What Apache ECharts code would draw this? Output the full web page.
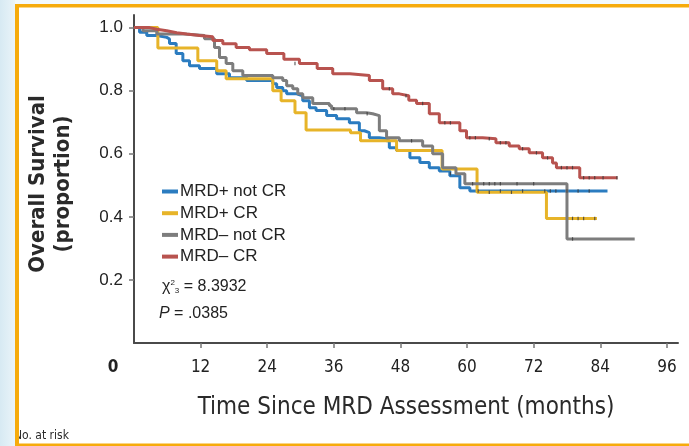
<!DOCTYPE html>
<html>
<head>
<meta charset="utf-8">
<script src="https://cdn.jsdelivr.net/npm/echarts@6/dist/echarts.min.js"></script>
<style>
html, body { margin: 0; padding: 0; background: #fff; }
#chart { width: 689px; height: 446px; }
</style>
</head>
<body>
<div id="chart"></div>
<script>
const chartDom = document.getElementById('chart');
const myChart = echarts.init(chartDom);

const seriesNames = ['MRD+ not CR', 'MRD+ CR', 'MRD\u2013 not CR', 'MRD\u2013 CR'];

// survival curves, [month, proportion] at each drop
const mrdPosNotCR = [
    [0, 1], [1, 0.985], [2.3, 0.975], [4.1, 0.969], [5.9, 0.964], [6.4, 0.95], [7.6, 0.918],
    [8.8, 0.895], [10, 0.879], [11.8, 0.87], [14.9, 0.854], [17.2, 0.841], [20.3, 0.832],
    [25, 0.822], [25.7, 0.81], [26.8, 0.8], [27.5, 0.79], [29.3, 0.784], [30.4, 0.768],
    [31.6, 0.746], [32.8, 0.737], [34.7, 0.721], [36.5, 0.711], [38.8, 0.698], [40.6, 0.673],
    [41.5, 0.667], [42.4, 0.651], [44.2, 0.648], [45.5, 0.641], [46, 0.619], [47.3, 0.61],
    [49.7, 0.587], [51.5, 0.572], [53.2, 0.556], [55, 0.545], [56.9, 0.53], [58.7, 0.492],
    [60.5, 0.482], [85.3, 0.482]
];
const mrdPosCR = [
    [0, 1], [4.3, 0.935], [11.5, 0.895], [14.9, 0.863], [16.6, 0.838], [25, 0.8],
    [26.5, 0.768], [29, 0.73], [31, 0.675], [39, 0.667], [40.8, 0.641], [47.3, 0.61],
    [55.5, 0.552], [61.8, 0.478], [74.3, 0.395], [83.4, 0.395]
];
const mrdNegNotCR = [
    [0, 1], [1.6, 0.99], [4.1, 0.98], [9, 0.975], [12.7, 0.965], [14.5, 0.937], [15.4, 0.905],
    [16.6, 0.886], [17.8, 0.863], [19.6, 0.848], [25, 0.841], [26.8, 0.832], [27.5, 0.816],
    [28.6, 0.806], [29.5, 0.79], [30.4, 0.778], [32.2, 0.759], [35.2, 0.752], [35.6, 0.743],
    [40.1, 0.73], [41.9, 0.727], [43, 0.721], [44.2, 0.673], [45.5, 0.651], [47.8, 0.641],
    [52, 0.625], [53.8, 0.6], [55.6, 0.556], [58, 0.537], [59.6, 0.505], [78, 0.33], [90.2, 0.33]
];
const mrdNegCR = [
    [0, 1], [2.8, 0.995], [4.1, 0.99], [5.9, 0.984], [7.7, 0.98], [9.5, 0.975], [11.8, 0.971],
    [14.2, 0.959], [16, 0.949], [18.4, 0.937], [20.8, 0.93], [23.9, 0.918], [27, 0.9],
    [29.8, 0.886], [33, 0.87], [35.8, 0.854], [38.9, 0.848], [42.4, 0.832], [44.8, 0.806],
    [46.6, 0.79], [47.8, 0.784], [49.5, 0.77], [50.9, 0.759], [53.2, 0.727], [55, 0.698],
    [58.7, 0.673], [59.9, 0.651], [62.8, 0.648], [65.2, 0.635], [67.6, 0.625], [69.4, 0.616],
    [71.2, 0.603], [73.6, 0.587], [75.4, 0.571], [76.1, 0.556], [80.3, 0.524], [87.1, 0.524]
];

// censor marks
const censorPosNotCR = [[62, 0.482], [66, 0.482], [70, 0.482], [74, 0.482], [75, 0.482], [76, 0.482], [78, 0.482], [80, 0.482], [82, 0.482]];
const censorPosCR = [[64, 0.478], [68, 0.478], [79, 0.395], [80, 0.395], [81, 0.395], [83, 0.395]];
const censorNegNotCR = [[36, 0.743], [38, 0.743], [42, 0.727], [50, 0.641], [57, 0.537], [61, 0.505], [63, 0.505], [64, 0.505], [65, 0.505], [66, 0.505], [69, 0.505], [72, 0.505], [79, 0.33]];
const censorNegCR = [[29, 0.886], [46, 0.806], [49, 0.784], [52, 0.759], [56, 0.698], [57, 0.698], [60.5, 0.651], [61.5, 0.651], [64, 0.648], [66, 0.635], [67, 0.635], [70, 0.616], [72.5, 0.603], [74.5, 0.587], [77, 0.556], [78, 0.556], [79, 0.556], [81, 0.524], [82, 0.524], [83, 0.524], [84.5, 0.524], [87, 0.524]];

const xTicks = [12, 24, 36, 48, 60, 72, 84, 96];
const xLabels = [0, 12, 24, 36, 48, 60, 72, 84, 96];
const yTicks = [0.2, 0.4, 0.6, 0.8, 1.0];

const narrow = '"DejaVu Sans Condensed", "Liberation Sans Narrow", sans-serif';
const sans = '"Liberation Sans", Arial, sans-serif';

const curves = [mrdPosNotCR, mrdPosCR, mrdNegNotCR, mrdNegCR];
const censors = [censorPosNotCR, censorPosCR, censorNegNotCR, censorNegCR];
const colors = ['#2b7cc0', '#e7b429', '#7d7d7d', '#b8534f'];

const series = [];
curves.forEach((data, i) => {
    series.push({
        name: seriesNames[i],
        type: 'line',
        step: 'end',
        data: data,
        symbol: 'none',
        color: colors[i],
        lineStyle: { width: 3, color: colors[i] },
        z: 2 + i
    });
});
censors.forEach((data) => {
    series.push({
        type: 'scatter',
        data: data,
        symbol: 'rect',
        symbolSize: [1.2, 3.5],
        itemStyle: { color: '#3a3a3a' },
        silent: true,
        z: 10
    });
});

const option = {
    animation: false,
    grid: { left: 134, right: 11, top: 15, bottom: 103 },
    xAxis: {
        type: 'value',
        min: 0,
        max: 98,
        name: 'Time Since MRD Assessment (months)',
        nameLocation: 'middle',
        nameGap: 53,
        nameTextStyle: { fontFamily: narrow, fontSize: 24, color: '#2a2a2a' },
        axisLine: { lineStyle: { color: '#4a4a4a', width: 2 } },
        axisTick: { customValues: xTicks, length: 5, lineStyle: { color: '#777', width: 1.5 } },
        axisLabel: {
            customValues: xLabels,
            margin: 16,
            fontFamily: narrow,
            fontSize: 17,
            color: '#222',
            formatter: function (value) {
                return value === 0 ? '{z|0}' : String(value);
            },
            rich: {
                z: { fontFamily: narrow, fontSize: 17, fontWeight: 'bold', color: '#222', padding: [0, 42, 0, 0] }
            }
        },
        splitLine: { show: false }
    },
    yAxis: {
        type: 'value',
        min: 0,
        max: 1.04,
        name: 'Overall Survival\n(proportion)',
        nameLocation: 'middle',
        nameRotate: 90,
        nameGap: 58,
        nameTextStyle: {
            fontFamily: narrow, fontSize: 22, fontWeight: 'bold', color: '#2a2a2a', lineHeight: 25,
            padding: [0, 10, 0, 0]
        },
        axisLine: { show: true, lineStyle: { color: '#4a4a4a', width: 2 } },
        axisTick: { show: true, customValues: yTicks, length: 5, lineStyle: { color: '#777', width: 1.5 } },
        axisLabel: {
            customValues: yTicks,
            margin: 11,
            fontFamily: sans,
            fontSize: 17,
            color: '#222',
            formatter: function (value) {
                return value.toFixed(1);
            }
        },
        splitLine: { show: false }
    },
    legend: {
        data: seriesNames,
        orient: 'vertical',
        left: 162,
        top: 183,
        padding: 0,
        itemWidth: 16,
        itemHeight: 4,
        itemGap: 4.7,
        icon: 'rect',
        selectedMode: false,
        textStyle: { fontFamily: sans, fontSize: 17, color: '#222', padding: [0, 0, 0, -3] }
    },
    graphic: [
        {
            type: 'text', left: 162, top: 279, z: 5,
            style: {
                text: '{c|\u03c7}{s|2}{b|3}{n| = 8.3932}',
                rich: {
                    c: { fontFamily: sans, fontSize: 16, fill: '#222' },
                    s: { fontFamily: sans, fontSize: 8, fill: '#222', verticalAlign: 'top' },
                    b: { fontFamily: sans, fontSize: 8, fill: '#222', verticalAlign: 'bottom' },
                    n: { fontFamily: sans, fontSize: 16, fill: '#222' }
                }
            }
        },
        {
            type: 'text', left: 159, top: 306, z: 5,
            style: {
                text: '{i|P}{n| = .0385}',
                rich: {
                    i: { fontFamily: sans, fontSize: 16, fontStyle: 'italic', fill: '#222' },
                    n: { fontFamily: sans, fontSize: 16, fill: '#222' }
                }
            }
        },
        {
            type: 'text', left: 14, top: 430, z: 5,
            style: { text: 'No. at risk', fontFamily: narrow, fontSize: 12, fill: '#2a2a2a' }
        },
        {
            type: 'rect', z: 20, shape: { x: 0, y: 0, width: 15, height: 446 },
            style: {
                fill: new echarts.graphic.LinearGradient(0, 0, 1, 0, [
                    { offset: 0, color: '#d7eaf3' },
                    { offset: 1, color: '#eaf4f9' }
                ])
            }
        },
        {
            type: 'rect', z: 20, shape: { x: 15, y: 0, width: 674, height: 4 },
            style: { fill: '#f3f9fc' }
        },
        {
            type: 'rect', z: 21, shape: { x: 15, y: 4, width: 674, height: 3.5 },
            style: { fill: '#f6ab0c' }
        },
        {
            type: 'rect', z: 21, shape: { x: 15, y: 4, width: 4, height: 442 },
            style: { fill: '#f6ab0c' }
        },
        {
            type: 'rect', z: 21, shape: { x: 15, y: 443.5, width: 674, height: 2.5 },
            style: { fill: '#f6ab0c' }
        }
    ],
    series: series
};

myChart.setOption(option);
</script>
</body>
</html>
